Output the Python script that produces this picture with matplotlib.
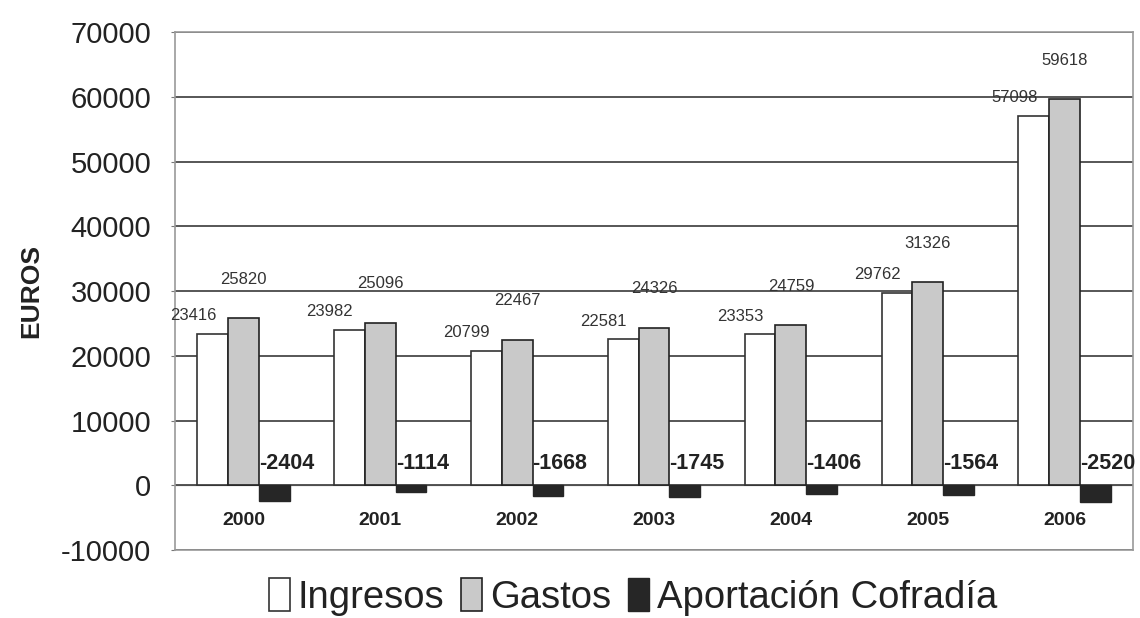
import numpy as np
import matplotlib
matplotlib.use('Agg')
import matplotlib.pyplot as plt

plt.rcParams['font.family'] = ['Liberation Sans', 'DejaVu Sans']
plt.rcParams['axes.unicode_minus'] = False

years = ['2000', '2001', '2002', '2003', '2004', '2005', '2006']
ingresos = [23416, 23982, 20799, 22581, 23353, 29762, 57098]
gastos = [25820, 25096, 22467, 24326, 24759, 31326, 59618]
aportacion = [-2404, -1114, -1668, -1745, -1406, -1564, -2520]

x = np.arange(len(years))
w = 0.225

fig = plt.figure(figsize=(11.4, 6.18), dpi=100)
ax = fig.add_axes([0.1535, 0.11, 0.8404, 0.838])

b1 = ax.bar(x - w, ingresos, w, color='white', edgecolor='#333333', linewidth=1.2, label='Ingresos', zorder=3)
b2 = ax.bar(x, gastos, w, color='#c9c9c9', edgecolor='#222222', linewidth=1.2, label='Gastos', zorder=3)
b3 = ax.bar(x + w, aportacion, w, color='#262626', edgecolor='#262626', linewidth=1, label='Aportación Cofradía', zorder=3)

# value labels (Excel-like loose placement)
for xi, v in zip(x, ingresos):
    ax.annotate(str(v), (xi - w * 1.5, v), xytext=(-3, 13), textcoords='offset points',
                ha='center', va='center', fontsize=12, color='#333333')
for xi, v in zip(x, gastos):
    ax.annotate(str(v), (xi, v), xytext=(0, 28), textcoords='offset points',
                ha='center', va='center', fontsize=12, color='#333333')
for xi, v in zip(x, aportacion):
    ax.annotate(str(v), (xi + w / 2, 0), xytext=(0, 16), textcoords='offset points',
                ha='left', va='center', fontsize=15.5, fontweight='bold', color='#222222')

# year labels under the bars
for xi, yr in zip(x, years):
    ax.annotate(yr, (xi, 0), xytext=(0, -25), textcoords='offset points',
                ha='center', va='center', fontsize=14, fontweight='bold', color='#222222')

ax.set_xlim(-0.5, len(years) - 0.5)
ax.set_ylim(-10000, 70000)
ax.set_yticks(np.arange(-10000, 70001, 10000))
ax.tick_params(axis='y', labelsize=21, length=3, color='#777777', pad=14, labelcolor='#222222')
ax.set_xticks(np.arange(-0.5, len(years), 1))
ax.set_xticklabels([])
ax.tick_params(axis='x', length=0)
ax.grid(axis='y', color='#3a3a3a', linewidth=1.2, zorder=0)
ax.axhline(0, color='#bbbbbb', linewidth=1, zorder=1)
for s in ax.spines.values():
    s.set_color('#999999')
    s.set_linewidth(1.2)

ax.set_ylabel('EUROS', fontsize=19, fontweight='bold', color='#222222')
ax.yaxis.set_label_coords(-0.137, 0.5)

fig.legend(handles=[b1, b2, b3], loc='center', bbox_to_anchor=(0.555, 0.034), ncol=3,
           frameon=False, fontsize=27.5, handlelength=0.55, handleheight=0.95,
           handletextpad=0.2, columnspacing=0.45, labelcolor='#222222')

fig.savefig('out.png', dpi=100)
